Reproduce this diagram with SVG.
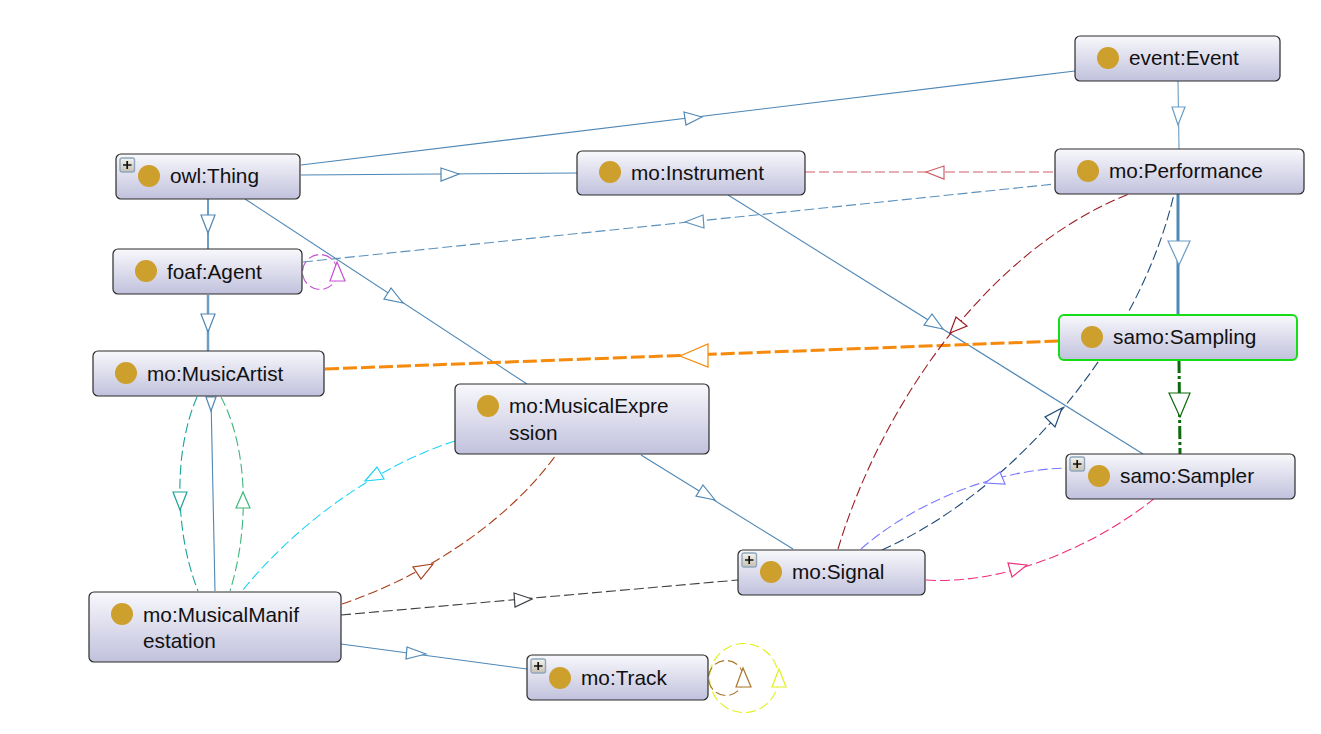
<svg xmlns="http://www.w3.org/2000/svg" width="1321" height="734" viewBox="0 0 1321 734">
<style>
.n{fill:url(#g);stroke:#2b2b2b;stroke-width:1.2}
.d{fill:#cd9f2c}
text{font-family:"Liberation Sans",Arial,sans-serif;font-size:20.8px;fill:#111}
.c{fill:none;stroke-width:1.1}
.h{fill:#fff;stroke-width:1.2}
.das{stroke-dasharray:10 4}
.pb{fill:url(#p);stroke:#8fa8bf;stroke-width:1.4}
.pl{stroke:#111;stroke-width:1.7;fill:none}
</style>
<defs>
<linearGradient id="g" x1="0" y1="0" x2="0" y2="1"><stop offset="0" stop-color="#f8f8fc"/><stop offset="1" stop-color="#c1c1dd"/></linearGradient>
<linearGradient id="p" x1="0" y1="0" x2="0" y2="1"><stop offset="0" stop-color="#f4f4f0"/><stop offset="1" stop-color="#c8c0b0"/></linearGradient>
<g id="plus"><rect class="pb" x="0" y="0" width="14.5" height="14" rx="2"/><path class="pl" d="M3 7H11.5M7.2 3V11"/></g>
</defs>
<g id="connectors">
<path class="c" stroke="#4f87b5" d="M301 165L1075 71"/><path class="h" stroke="#4f87b5" d="M702 117L684 112L686 125Z"/>
<path class="c" stroke="#4f87b5" d="M301 175L577 173"/><path class="h" stroke="#4f87b5" d="M459 174L441 168V181Z"/>
<path class="c" stroke="#6a9cc4" d="M1178 81L1179 149"/><path class="h" stroke="#6a9cc4" d="M1178 125L1172 107H1185Z"/>
<path class="c das" stroke="#d0606a" d="M805 172H1055"/><path class="h" stroke="#d0606a" d="M926 172L944 166V179Z"/>
<path class="c das" stroke="#5c92bd" d="M303 262L1055 184"/><path class="h" stroke="#5c92bd" d="M685 222L703 215L704 228Z"/>
<path d="M208 199V249" stroke="#6b9fc8" stroke-width="2" fill="none"/><path class="h" stroke="#4f87b5" d="M208 233L201 215H215Z"/>
<path d="M208 295V351" stroke="#6b9fc8" stroke-width="2.5" fill="none"/><path class="h" stroke="#4f87b5" d="M208 332L201 314H215Z"/>
<path class="c" stroke="#4f87b5" d="M245 199L527 384"/><path class="h" stroke="#4f87b5" d="M403 303L384 299L391 288Z"/>
<path class="c" stroke="#4f87b5" d="M728 195L1143 454"/><path class="h" stroke="#4f87b5" d="M943 329L924 325L932 314Z"/>
<path class="c" stroke="#4f87b5" d="M641 455L793 549"/><path class="h" stroke="#4f87b5" d="M715 500L696 496L703 485Z"/>
<path class="c" stroke="#4f87b5" d="M211 397L215 591"/><path class="h" stroke="#4f87b5" d="M211 411L206 397H216Z"/>
<circle class="c das" stroke="#c653d3" cx="320" cy="272" r="17.5"/><path class="h" stroke="#c653d3" d="M337 262L330 281H345Z"/>
<path d="M1178 194V315" stroke="#4f87b5" stroke-width="3" fill="none"/><path class="h" stroke="#6a9cc4" d="M1179 265L1168 241H1190Z"/>
<path d="M1179 360L1180 454" stroke="#0c6a0c" stroke-width="3" stroke-dasharray="13 3 3 3" fill="none"/><path class="h" stroke="#0c6a0c" d="M1180 417L1169 393H1190Z"/>
<path d="M325 369L1059 341" stroke="#f58a0c" stroke-width="3" stroke-dasharray="14 4" fill="none"/><path class="h" stroke="#f58a0c" d="M680 356L708 344V367Z"/>
<path class="c das" stroke="#9c1c24" d="M838 549C875 425 975 255 1129 194"/><path class="h" stroke="#9c1c24" d="M950 333L956 317L967 326Z"/>
<path class="c das" stroke="#1f4b78" d="M882 550C1020 488 1140 340 1174 194"/><path class="h" stroke="#1f4b78" d="M1062 408L1045 417L1055 427Z"/>
<path class="c das" stroke="#7a7aff" d="M861 549C905 510 985 470 1067 468"/><path class="h" stroke="#7a7aff" d="M985 483L1000 472L1005 484Z"/>
<path class="c das" stroke="#ef2f7c" d="M926 580C1000 585 1090 550 1155 498"/><path class="h" stroke="#ef2f7c" d="M1027 565L1008 563L1012 577Z"/>
<path class="c das" stroke="#3c3f44" d="M341 615L738 580"/><path class="h" stroke="#3c3f44" d="M532 599L514 593L515 607Z"/>
<path class="c das" stroke="#1aa298" d="M197 397C174 450 174 530 198 591"/><path class="h" stroke="#1aa298" d="M180 510L173 492H187Z"/>
<path class="c das" stroke="#3fb77a" d="M221 397C249 450 249 530 230 591"/><path class="h" stroke="#3fb77a" d="M243 492L236 508H250Z"/>
<path class="c das" stroke="#22d4f5" d="M455 441C380 465 300 520 242 591"/><path class="h" stroke="#22d4f5" d="M365 481L377 467L384 479Z"/>
<path class="c das" stroke="#a83c16" d="M342 604C420 578 505 525 556 455"/><path class="h" stroke="#a83c16" d="M433 564L413 567L421 579Z"/>
<path class="c" stroke="#4f87b5" d="M341 644L527 669"/><path class="h" stroke="#4f87b5" d="M426 654L407 647L406 659Z"/>
<circle class="c das" stroke="#e2f018" cx="744" cy="678" r="34.5"/><path class="h" stroke="#e2f018" d="M779 669L772 687H786Z"/>
<circle class="c das" stroke="#a9762a" cx="726" cy="678" r="17.5"/><path class="h" stroke="#a9762a" d="M743 668L736 687H751Z"/>
</g>
<g id="event-Event"><rect class="n" x="1075" y="36" width="205" height="45" rx="5"/><circle class="d" cx="1108" cy="58" r="11"/><text x="1129" y="65">event:Event</text></g>
<g id="owl-Thing"><rect class="n" x="116" y="154" width="184" height="45" rx="5"/><circle class="d" cx="149" cy="176" r="11"/><use href="#plus" x="120" y="158"/><text x="170" y="183">owl:Thing</text></g>
<g id="mo-Instrument"><rect class="n" x="577" y="151" width="228" height="44" rx="5"/><circle class="d" cx="610" cy="172" r="11"/><text x="631" y="180">mo:Instrument</text></g>
<g id="mo-Performance"><rect class="n" x="1055" y="149" width="249" height="45" rx="5"/><circle class="d" cx="1088" cy="171" r="11"/><text x="1109" y="178">mo:Performance</text></g>
<g id="foaf-Agent"><rect class="n" x="113" y="249" width="189" height="45" rx="5"/><circle class="d" cx="146" cy="271" r="11"/><text x="167" y="279">foaf:Agent</text></g>
<g id="samo-Sampling"><rect x="1059" y="315" width="238" height="45" rx="5" fill="url(#g)" stroke="#16dd16" stroke-width="2"/><circle class="d" cx="1092" cy="337" r="11"/><text x="1113" y="344">samo:Sampling</text></g>
<g id="mo-MusicArtist"><rect class="n" x="93" y="351" width="231" height="45" rx="5"/><circle class="d" cx="126" cy="373" r="11"/><text x="147" y="381">mo:MusicArtist</text></g>
<g id="mo-MusicalExpression"><rect class="n" x="455" y="384" width="254" height="70" rx="5"/><circle class="d" cx="488" cy="406" r="11"/><text x="509" y="413">mo:MusicalExpre</text><text x="509" y="440">ssion</text></g>
<g id="samo-Sampler"><rect class="n" x="1066" y="454" width="229" height="45" rx="5"/><circle class="d" cx="1099" cy="476" r="11"/><use href="#plus" x="1070" y="457"/><text x="1120" y="483">samo:Sampler</text></g>
<g id="mo-Signal"><rect class="n" x="738" y="550" width="187" height="45" rx="5"/><circle class="d" cx="771" cy="572" r="11"/><use href="#plus" x="742" y="553"/><text x="792" y="579">mo:Signal</text></g>
<g id="mo-MusicalManifestation"><rect class="n" x="89" y="592" width="252" height="70" rx="5"/><circle class="d" cx="122" cy="614" r="11"/><text x="143" y="622">mo:MusicalManif</text><text x="143" y="648">estation</text></g>
<g id="mo-Track"><rect class="n" x="527" y="655" width="181" height="45" rx="5"/><circle class="d" cx="560" cy="678" r="11"/><use href="#plus" x="531" y="659"/><text x="581" y="685">mo:Track</text></g>
</svg>
